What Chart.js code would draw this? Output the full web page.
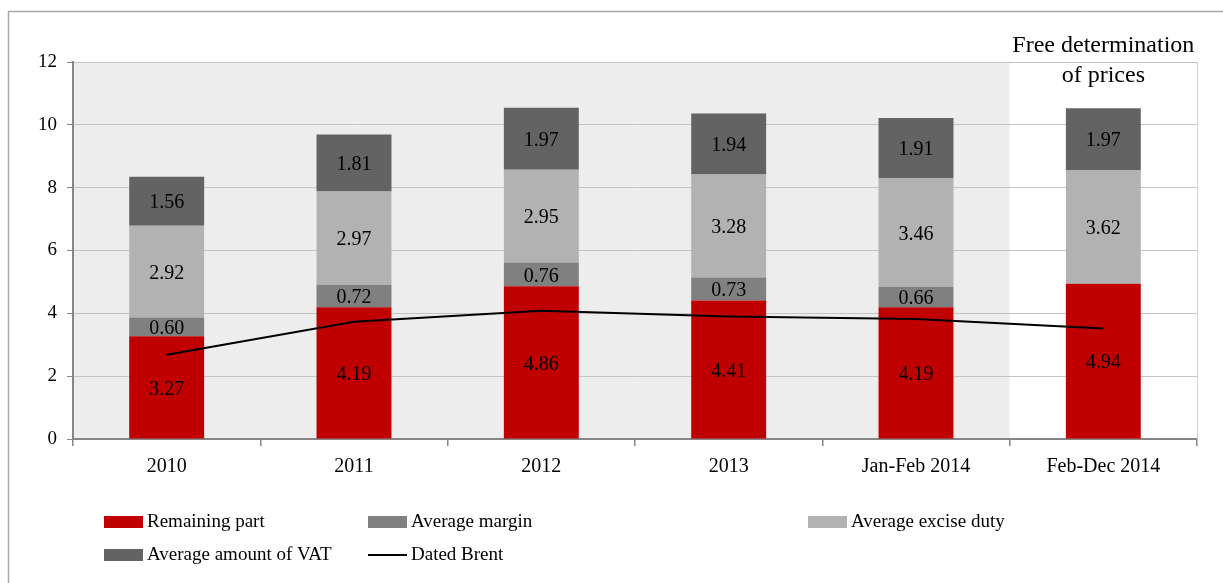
<!DOCTYPE html>
<html><head><meta charset="utf-8">
<script src="https://cdn.jsdelivr.net/npm/chart.js@4.4.1/dist/chart.umd.min.js"></script>
<style>html,body{margin:0;padding:0;background:#fff;}#wrap{position:relative;width:1223px;height:583px;}</style>
</head><body><div id="wrap"><canvas id="c" width="1223" height="583"></canvas></div>
<script>
const categories = ["2010","2011","2012","2013","Jan-Feb 2014","Feb-Dec 2014"];
const remainingPart = [3.27,4.19,4.86,4.41,4.19,4.94];
const averageMargin = [0.60,0.72,0.76,0.73,0.66,null];
const averageExcise = [2.92,2.97,2.95,3.28,3.46,3.62];
const averageVAT = [1.56,1.81,1.97,1.94,1.91,1.97];
const datedBrent = [2.68,3.73,4.08,3.90,3.82,3.52];
const yTicks = [0,2,4,6,8,10,12];
const FONT = "'Liberation Serif', 'Times New Roman', serif";

const decor = {
  id: 'decor',
  beforeDraw(chart) {
    const {ctx, chartArea: a, scales: {x}} = chart;
    ctx.save();
    ctx.fillStyle = '#ededed';
    const bx = (x.getPixelForValue(4) + x.getPixelForValue(5)) / 2;
    ctx.fillRect(a.left, a.top, bx - a.left, a.bottom - a.top);
    ctx.strokeStyle = '#a8a8a8';
    ctx.lineWidth = 1.5;
    ctx.beginPath();
    ctx.moveTo(8.5, 590); ctx.lineTo(8.5, 11.5); ctx.lineTo(1240, 11.5);
    ctx.stroke();
    ctx.restore();
  },
  afterDraw(chart) {
    const {ctx, chartArea: a, scales: {x}} = chart;
    ctx.save();
    ctx.strokeStyle = '#d0d0d0';
    ctx.lineWidth = 1;
    ctx.beginPath(); ctx.moveTo(a.right + 0.5, a.top); ctx.lineTo(a.right + 0.5, a.bottom); ctx.stroke();
    ctx.fillStyle = '#000';
    ctx.font = "24px " + FONT;
    ctx.textAlign = 'center';
    ctx.textBaseline = 'middle';
    const cx = x.getPixelForValue(5);
    ctx.fillText('Free determination', cx, 46);
    ctx.fillText('of prices', cx, 76);
    const ds = chart.data.datasets;
    const slots = [
      {i:0, x:104, y:522}, {i:1, x:368, y:522}, {i:2, x:808, y:522},
      {i:3, x:104, y:555}, {i:4, x:368, y:555}
    ];
    ctx.font = "19px " + FONT;
    ctx.textAlign = 'left';
    slots.forEach(s => {
      const d = ds[s.i];
      if (d.type === 'line') {
        ctx.strokeStyle = d.borderColor; ctx.lineWidth = 2;
        ctx.beginPath(); ctx.moveTo(s.x, s.y); ctx.lineTo(s.x + 39, s.y); ctx.stroke();
      } else {
        ctx.fillStyle = d.backgroundColor;
        ctx.fillRect(s.x, s.y - 6, 39, 12);
      }
      ctx.fillStyle = '#000';
      ctx.fillText(d.label, s.x + 43, s.y);
    });
    ctx.restore();
  },
  afterDatasetsDraw(chart) {
    const {ctx} = chart;
    ctx.save();
    ctx.font = "20px " + FONT;
    ctx.fillStyle = '#000';
    ctx.textAlign = 'center';
    ctx.textBaseline = 'middle';
    chart.data.datasets.forEach((d, di) => {
      if (d.type !== 'bar') return;
      const meta = chart.getDatasetMeta(di);
      meta.data.forEach((el, j) => {
        const v = d.data[j];
        if (v === null || v === undefined) return;
        const p = el.getProps(['x','y','base'], true);
        ctx.fillText(v.toFixed(2), p.x, (p.y + p.base) / 2 + 2);
      });
    });
    ctx.restore();
  }
};

new Chart(document.getElementById('c'), {
  data: {
    labels: categories,
    datasets: [
      {type:'bar', label:'Remaining part', data: remainingPart, backgroundColor:'#c00000', stack:'s', order:1},
      {type:'bar', label:'Average margin', data: averageMargin, backgroundColor:'#808080', stack:'s', order:1},
      {type:'bar', label:'Average excise duty', data: averageExcise, backgroundColor:'#b2b2b2', stack:'s', order:1},
      {type:'bar', label:'Average amount of VAT', data: averageVAT, backgroundColor:'#636363', stack:'s', order:1},
      {type:'line', label:'Dated Brent', data: datedBrent, borderColor:'#000', borderWidth:2, pointRadius:0, tension:0, fill:false, stack:'brent', order:0}
    ]
  },
  options: {
    responsive: false,
    animation: false,
    devicePixelRatio: 1,
    layout: {padding: {left: 0, top: 62, right: 26, bottom: 0}},
    datasets: {bar: {barPercentage: 0.8, categoryPercentage: 0.5, borderWidth: 0}},
    plugins: {legend: {display: false}, tooltip: {enabled: false}},
    scales: {
      x: {
        stacked: true,
        afterFit(s) { s.height = 144; },
        grid: {offset: true, drawOnChartArea: false, drawTicks: true, tickLength: 7, color: '#868686', lineWidth: 1.5},
        border: {color: '#868686', width: 2},
        ticks: {color: '#000', font: {family: FONT, size: 20}, padding: 9}
      },
      y: {
        stacked: true,
        min: 0, max: 12,
        afterFit(s) { s.width = 73; },
        afterBuildTicks(s) { s.ticks = yTicks.map(v => ({value: v})); },
        grid: {color: '#c4c4c4', lineWidth: 1, tickLength: 6, tickColor: '#868686'},
        border: {color: '#868686', width: 2},
        ticks: {color: '#000', font: {family: FONT, size: 19}, padding: 10}
      }
    }
  },
  plugins: [decor]
});
</script></body></html>
